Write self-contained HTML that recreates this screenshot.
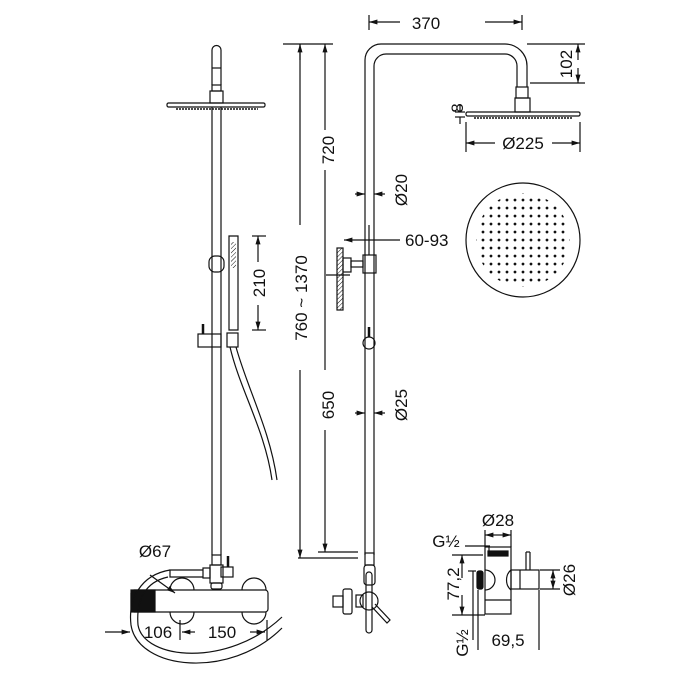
<!DOCTYPE html>
<html><head><meta charset="utf-8"><style>
html,body{margin:0;padding:0;background:#fff;}
svg{display:block;font-family:"Liberation Sans",sans-serif;}
text{font-size:17px;fill:#111;}
</style></head><body>
<svg width="700" height="700" viewBox="0 0 700 700" xmlns="http://www.w3.org/2000/svg">
<defs>
<marker id="a" viewBox="0 0 10 10" refX="10" refY="5" markerWidth="7" markerHeight="7" orient="auto-start-reverse"><path d="M0,2 L10,5 L0,8z" fill="#111"/></marker>
<pattern id="h" width="3" height="3" patternUnits="userSpaceOnUse" patternTransform="rotate(45)"><line x1="0" y1="0" x2="0" y2="3" stroke="#111" stroke-width="1"/></pattern>
<pattern id="d" x="519" y="236" width="8" height="8" patternUnits="userSpaceOnUse"><circle cx="4" cy="4" r="1.4" fill="#111"/></pattern>
</defs>
<g fill="none" stroke="#111" stroke-width="1.2">
<!-- LEFT VIEW -->
<path d="M212,85 L212,50 A4.5,4.5 0 0 1 221,50 L221,85"/>
<line x1="212" y1="68" x2="221" y2="68"/>
<rect x="212" y="85" width="9" height="6"/>
<rect x="210" y="91" width="13" height="12"/>
<rect x="167" y="103" width="98" height="4" rx="1.5"/>
<line x1="176" y1="109" x2="258" y2="109" stroke-dasharray="2,1" stroke-width="1.5"/>
<line x1="212" y1="107" x2="212" y2="555"/><line x1="221" y1="107" x2="221" y2="555"/>
<rect x="209" y="256" width="15" height="16" rx="6"/>
<rect x="198" y="334" width="23" height="13"/>
<line x1="203" y1="324" x2="203" y2="334" stroke-width="2.5"/>
<rect x="227" y="333" width="11" height="14"/>
<path d="M229,236 L238,236 L238,330 L229,330 Z"/>
<rect x="231" y="242" width="5" height="26" fill="url(#h)" stroke="none"/>
<path d="M230,347 C240,390 265,430 272,480 M236,347 C248,390 270,430 277,480"/>
<!-- dims left -->
<line x1="283" y1="44" x2="333" y2="44"/>
<line x1="300" y1="44" x2="300" y2="225"/><line x1="300" y1="370" x2="300" y2="558" marker-end="url(#a)"/>
<line x1="300" y1="60" x2="300" y2="44" marker-end="url(#a)"/>
<line x1="325" y1="44" x2="325" y2="130" marker-start="url(#a)"/><line x1="325" y1="170" x2="325" y2="370"/>
<line x1="325" y1="430" x2="325" y2="552" marker-end="url(#a)"/>
<line x1="298" y1="558" x2="358" y2="558"/><line x1="318" y1="552" x2="358" y2="552"/>
<line x1="252" y1="236" x2="266" y2="236"/><line x1="252" y1="330" x2="266" y2="330"/>
<line x1="258" y1="262" x2="258" y2="236" marker-end="url(#a)"/><line x1="258" y1="305" x2="258" y2="330" marker-end="url(#a)"/>
<!-- RIGHT VIEW pipe -->
<path d="M365,555 L365,60 A16,16 0 0 1 381,44 L505,44 A22,22 0 0 1 527,66 L527,87"/>
<path d="M374,555 L374,66 A12,12 0 0 1 386,54 L505,54 A12,12 0 0 1 517,66 L517,87"/>
<rect x="516" y="87" width="12" height="11"/>
<rect x="515" y="98" width="15" height="14"/>
<rect x="466" y="112" width="114" height="4" rx="1.5"/>
<line x1="474" y1="118" x2="572" y2="118" stroke-dasharray="2,1" stroke-width="1.5"/>
<line x1="369" y1="225" x2="369" y2="255"/>
<rect x="363" y="255" width="13" height="18"/>
<rect x="337" y="248" width="6" height="62" fill="url(#h)"/>
<rect x="343" y="258" width="8" height="14"/><rect x="351" y="261" width="12" height="6"/>
<circle cx="369" cy="343" r="6"/><line x1="369" y1="327" x2="369" y2="337" stroke-width="2.5"/>
<rect x="365" y="553" width="9" height="12"/>
<rect x="364" y="565" width="11" height="20" rx="3"/>
<path d="M366,630 L366,575 A3,3 0 0 1 372,575 L372,630 A3,3 0 0 1 366,630"/>
<circle cx="369" cy="601" r="9"/>
<path d="M375,604 L390,620 L387,623 L372,607"/>
<rect x="356" y="595" width="7" height="12"/>
<rect x="343" y="589" width="9" height="25" rx="2"/>
<rect x="333" y="596" width="10" height="11"/>
<!-- dims right -->
<line x1="369" y1="15" x2="369" y2="30"/><line x1="522" y1="15" x2="522" y2="30"/>
<line x1="400" y1="22" x2="369" y2="22" marker-end="url(#a)"/><line x1="485" y1="22" x2="522" y2="22" marker-end="url(#a)"/>
<line x1="527" y1="44" x2="585" y2="44"/><line x1="530" y1="83" x2="585" y2="83"/>
<line x1="578" y1="60" x2="578" y2="44" marker-end="url(#a)"/><line x1="578" y1="68" x2="578" y2="83" marker-end="url(#a)"/>
<line x1="455" y1="112" x2="465" y2="112"/><line x1="455" y1="117" x2="465" y2="117"/>
<line x1="460" y1="104" x2="460" y2="112"/><line x1="460" y1="124" x2="460" y2="117"/>
<line x1="466" y1="122" x2="466" y2="152"/><line x1="580" y1="122" x2="580" y2="152"/>
<line x1="495" y1="143" x2="466" y2="143" marker-end="url(#a)"/><line x1="552" y1="143" x2="580" y2="143" marker-end="url(#a)"/>
<line x1="355" y1="194" x2="365" y2="194" marker-end="url(#a)"/><line x1="385" y1="194" x2="374" y2="194" marker-end="url(#a)"/>
<line x1="355" y1="413" x2="365" y2="413" marker-end="url(#a)"/><line x1="385" y1="413" x2="374" y2="413" marker-end="url(#a)"/>
<line x1="400" y1="240" x2="344" y2="240" marker-end="url(#a)"/>
<line x1="326" y1="275" x2="350" y2="275"/>
<circle cx="523" cy="240" r="57"/>
<circle cx="523" cy="240" r="47" fill="url(#d)" stroke="none"/>
<!-- mixer bottom-left -->
<rect x="131" y="590" width="137" height="22" rx="3"/>
<rect x="131" y="590" width="24" height="22" fill="#111"/>
<path d="M170,590 A12,12 0 0 1 194,590 M170,612 A12,12 0 0 0 194,612 M242,590 A12,12 0 0 1 266,590 M242,612 A12,12 0 0 0 266,612"/>
<rect x="212" y="555" width="9" height="10"/>
<rect x="210" y="565" width="13" height="18"/><rect x="211" y="583" width="11" height="6" rx="2"/>
<rect x="221" y="567" width="12" height="10"/><line x1="228" y1="556" x2="228" y2="567" stroke-width="2.5"/>
<rect x="203" y="568" width="7" height="10"/>
<path d="M203,570 L170,570 L170,577 L203,577"/>
<path d="M170,570 C140,575 128,600 131,625 C138,670 230,680 282,628 M168,577 C145,582 136,600 138,625 C144,660 228,668 282,617"/>
<line x1="150" y1="575" x2="175" y2="593" marker-end="url(#a)"/>
<line x1="105" y1="632" x2="130" y2="632" marker-end="url(#a)"/>
<line x1="180" y1="620" x2="180" y2="640"/><line x1="267" y1="620" x2="267" y2="640"/>
<line x1="195" y1="632" x2="182" y2="632" marker-end="url(#a)"/><line x1="250" y1="632" x2="265" y2="632" marker-end="url(#a)"/>
<!-- detail bottom-right -->
<rect x="485" y="547" width="26" height="67"/>
<rect x="488" y="551" width="20" height="5" fill="#111"/>
<line x1="485" y1="600" x2="511" y2="600"/>
<path d="M485,570 A10,10 0 0 1 485,590 M511,570 A10,12 0 0 0 511,590"/>
<rect x="477" y="571" width="6" height="18" rx="2" fill="#111"/>
<rect x="511" y="570" width="28" height="19"/><line x1="520" y1="570" x2="520" y2="589"/>
<line x1="526" y1="552" x2="526" y2="570"/><line x1="530" y1="552" x2="530" y2="570"/><line x1="526" y1="552" x2="530" y2="552"/>
<line x1="485" y1="530" x2="485" y2="547"/><line x1="511" y1="530" x2="511" y2="547"/>
<line x1="498" y1="535" x2="485" y2="535" marker-end="url(#a)"/><line x1="498" y1="535" x2="511" y2="535" marker-end="url(#a)"/>
<line x1="465" y1="546" x2="490" y2="546"/><line x1="489" y1="546" x2="489" y2="556"/>
<line x1="452" y1="555" x2="483" y2="555"/><line x1="452" y1="615" x2="485" y2="615"/>
<line x1="462" y1="578" x2="462" y2="555" marker-end="url(#a)"/><line x1="462" y1="595" x2="462" y2="615" marker-end="url(#a)"/>
<line x1="468" y1="571" x2="476" y2="571"/><line x1="473" y1="571" x2="473" y2="640"/>
<line x1="540" y1="570" x2="560" y2="570"/><line x1="540" y1="589" x2="560" y2="589"/>
<line x1="553" y1="580" x2="553" y2="570" marker-end="url(#a)"/><line x1="553" y1="580" x2="553" y2="589" marker-end="url(#a)"/>
<line x1="478" y1="590" x2="478" y2="650"/><line x1="539" y1="590" x2="539" y2="650"/>
</g>
<!-- texts -->
<text x="426" y="29" text-anchor="middle">370</text>
<text transform="translate(572,64) rotate(-90)" text-anchor="middle">102</text>
<text transform="translate(463,108) rotate(-90)" text-anchor="middle" font-size="14">8</text>
<text x="523" y="149" text-anchor="middle">Ø225</text>
<text transform="translate(407,190) rotate(-90)" text-anchor="middle">Ø20</text>
<text x="405" y="246">60-93</text>
<text transform="translate(407,405) rotate(-90)" text-anchor="middle">Ø25</text>
<text transform="translate(334,150) rotate(-90)" text-anchor="middle">720</text>
<text transform="translate(334,405) rotate(-90)" text-anchor="middle">650</text>
<text transform="translate(307,298) rotate(-90)" text-anchor="middle">760 ~ 1370</text>
<text transform="translate(265,283) rotate(-90)" text-anchor="middle">210</text>
<text x="155" y="557" text-anchor="middle">Ø67</text>
<text x="158" y="638" text-anchor="middle">106</text>
<text x="222" y="638" text-anchor="middle">150</text>
<text x="498" y="526" text-anchor="middle">Ø28</text>
<text x="446" y="547" text-anchor="middle">G½</text>
<text transform="translate(459,584) rotate(-90)" text-anchor="middle">77,2</text>
<text transform="translate(575,580) rotate(-90)" text-anchor="middle">Ø26</text>
<text transform="translate(468,643) rotate(-90)" text-anchor="middle">G½</text>
<text x="508" y="646" text-anchor="middle">69,5</text>
</svg>
</body></html>
